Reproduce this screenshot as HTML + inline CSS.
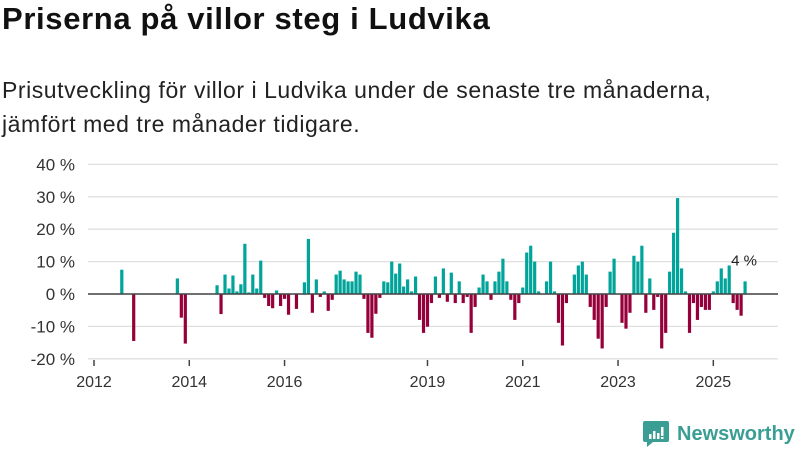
<!DOCTYPE html>
<html><head><meta charset="utf-8"><style>
body{margin:0;background:#fff;font-family:"Liberation Sans",sans-serif;}
#wrap{position:relative;width:800px;height:450px;overflow:hidden;}
h1{position:absolute;left:2px;top:1px;margin:0;font-size:31px;font-weight:bold;color:#111;letter-spacing:0.65px;}
.sub{position:absolute;left:2px;top:73px;margin:0;font-size:23px;line-height:34px;color:#222;letter-spacing:0.55px;}
svg{position:absolute;left:0;top:0;}
</style></head><body>
<div id="wrap">
<h1>Priserna på villor steg i Ludvika</h1>
<p class="sub">Prisutveckling för villor i Ludvika under de senaste tre månaderna,<br>jämfört med tre månader tidigare.</p>
<svg id="chart" width="800" height="450"></svg>
</div>
<script>
const yTicks=[40,30,20,10,0,-10,-20];
const xTickMonths=[0,24,48,84,108,132,156];
const xTickLabels=["2012","2014","2016","2019","2021","2023","2025"];
const months=[7,10,21,22,23,31,32,33,34,35,36,37,38,39,40,41,42,43,44,45,46,47,48,49,51,53,54,55,56,57,58,59,60,61,62,63,64,65,66,67,68,69,70,71,72,73,74,75,76,77,78,79,80,81,82,83,84,85,86,87,88,89,90,91,92,93,94,95,96,97,98,99,100,101,102,103,104,105,106,107,108,109,110,111,112,114,115,116,117,118,119,121,122,123,124,125,126,127,128,129,130,131,133,134,135,136,137,138,139,140,141,142,143,144,145,146,147,148,149,150,151,152,153,154,155,156,157,158,159,160,161,162,163,164];
const values=[7.5,-14.5,4.8,-7.3,-15.3,2.7,-6.2,6,1.7,5.7,0.8,3,15.5,0.5,6,1.7,10.3,-1.2,-3.7,-4.4,1.1,-3.7,-1.5,-6.4,-4.6,3.6,17,-5.8,4.5,-0.9,0.8,-5.2,-1.8,6,7.2,4.5,3.9,3.9,6.9,6,-1.5,-12,-13.5,-6.1,-1.2,3.9,3.6,10,6.3,9.4,2.3,4.5,0.8,5.4,-8,-12,-10.1,-2.8,5.4,-1.2,7.9,-2.4,6.6,-2.8,3.9,-2.8,-0.9,-12,-4,2,6,3.9,-1.8,3.9,6.9,10.9,3.9,-1.8,-8,-2.8,2,12.8,14.9,10,0.8,3.9,10,0.8,-8.9,-15.9,-2.8,6,8.8,10,6,-4,-8,-13.8,-16.8,-4,6.9,10.9,-8.9,-10.7,-5.8,11.8,10,14.9,-5.8,4.8,-4.9,-0.9,-16.8,-12,6.9,18.9,29.6,7.9,0.8,-12,-2.8,-8,-4,-4.9,-4.9,0.8,3.9,7.9,4.8,8.8,-2.8,-4.9,-6.7,3.9];
const lastLabel="4 %";
const NS="http://www.w3.org/2000/svg";
const svg=document.getElementById('chart');
const X=i=>94+i*3.97;
const Y=v=>294-v*3.24;
function mk(t,a){const e=document.createElementNS(NS,t);for(const k in a)e.setAttribute(k,a[k]);svg.appendChild(e);return e;}
yTicks.forEach(t=>{
 const g=mk('line',{x1:88,x2:778,y1:Y(t),y2:Y(t),stroke:'#e0e0e0','stroke-width':1.3});
 
 
 const l=mk('text',{x:75,y:Y(t)+6,'text-anchor':'end','font-size':17,fill:'#333','font-family':'Liberation Sans, sans-serif'});
 l.textContent=t+' %';
 
 
});
xTickMonths.forEach((m,k)=>{
 const t=mk('line',{x1:X(m),x2:X(m),y1:360,y2:366,stroke:'#444','stroke-width':1.5});
 
 
 const l=mk('text',{x:X(m),y:387,'text-anchor':'middle','font-size':16,fill:'#333','font-family':'Liberation Sans, sans-serif'});
 l.textContent=xTickLabels[k];
 
 
});
months.forEach((m,k)=>{
 const v=values[k];
 const r=mk('rect',{x:X(m)-1.6,width:3.2,y:Math.min(Y(v),Y(0)),height:Math.abs(Y(v)-Y(0)),fill:v>=0?'#00a49a':'#96003a'});
 
 
});
const z=mk('line',{x1:88,x2:778,y1:Y(0),y2:Y(0),stroke:'#444','stroke-width':1.5});


const li=months.length-1;
const lab=mk('text',{x:X(months[li])-1,y:Y(values[li])-16,'text-anchor':'middle','font-size':15,fill:'#222','font-family':'Liberation Sans, sans-serif'});
lab.textContent=lastLabel;


</script>
<svg width="800" height="450" style="position:absolute;left:0;top:0">
<path d="M645 421h22a2 2 0 0 1 2 2v17a2 2 0 0 1-2 2h-14l-6 5v-5h-2a2 2 0 0 1-2-2v-17a2 2 0 0 1 2-2z" fill="#3a9e94"/>
<rect x="649" y="434" width="2.5" height="5" fill="#fff"/><rect x="653" y="431" width="2.5" height="8" fill="#fff"/><rect x="657" y="433" width="2.5" height="6" fill="#fff"/><rect x="661" y="427" width="2.5" height="9" fill="#fff"/><rect x="661" y="437" width="2.5" height="2" fill="#fff"/>
<text x="677" y="440" font-size="20" font-family="Liberation Sans, sans-serif" fill="#3a9e94" font-weight="bold">Newsworthy</text>
</svg>
</body></html>
